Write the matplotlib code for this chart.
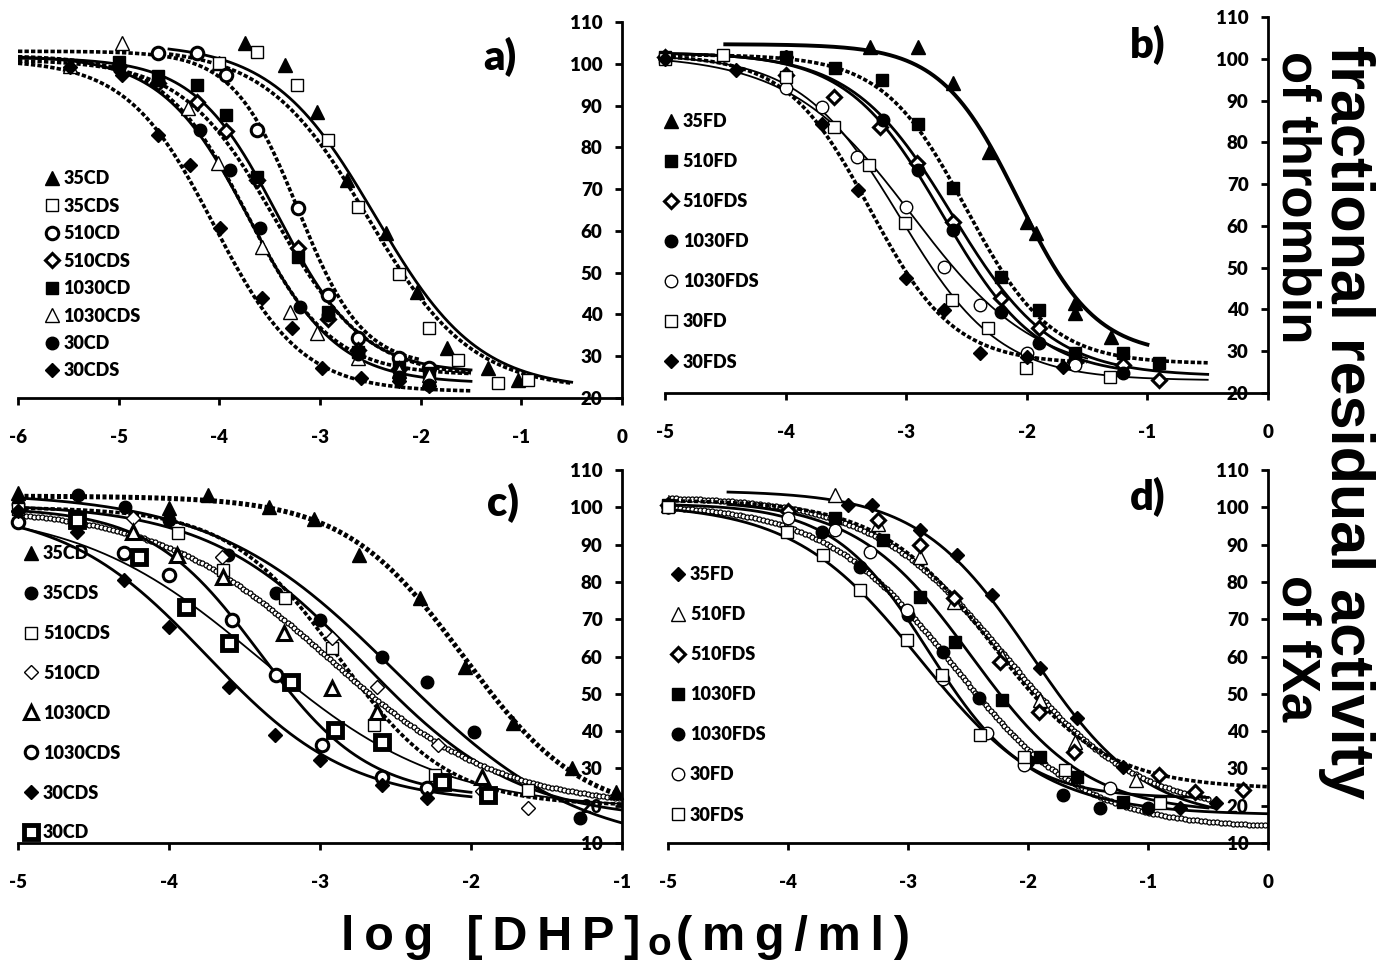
import numpy as np
import matplotlib
matplotlib.use("Agg")
import matplotlib.pyplot as plt

plt.rcParams['font.family'] = ['Lato', 'DejaVu Sans']
plt.rcParams['font.weight'] = 'heavy'
plt.rcParams['axes.unicode_minus'] = False

# ---------------- a) thrombin, CD / CDS
a_names = ['35CD', '35CDS', '510CD', '510CDS', '1030CD', '1030CDS', '30CD', '30CDS']
a_x = [[-4.0, -3.75, -3.35, -3.03, -2.73, -2.34, -2.04, -1.74, -1.33, -1.03],
       [-4.0, -3.63, -3.23, -2.92, -2.62, -2.22, -1.92, -1.63, -1.23, -0.93],
       [-4.61, -4.22, -3.93, -3.63, -3.22, -2.92, -2.62, -2.22, -1.92],
       [-5.0, -4.61, -4.22, -3.93, -3.63, -3.22, -2.92, -2.62, -2.22],
       [-5.0, -4.61, -4.22, -3.93, -3.63, -3.22, -2.92, -2.62, -2.22, -1.92],
       [-5.48, -4.97, -4.31, -4.01, -3.58, -3.30, -3.03, -2.62, -2.22, -1.92],
       [-5.0, -4.61, -4.19, -3.89, -3.60, -3.20, -2.92, -2.62, -2.22, -1.92],
       [-5.48, -4.97, -4.61, -4.29, -3.99, -3.58, -3.28, -2.98, -2.59, -2.22, -1.92]]
a_y = [[100.1, 104.9, 99.7, 88.5, 72.3, 59.4, 45.4, 31.9, 27.1, 24.3],
       [100.1, 102.9, 94.9, 81.8, 65.8, 49.8, 36.7, 29.1, 23.5, 24.3],
       [102.5, 102.5, 97.3, 84.1, 65.4, 44.7, 34.3, 29.5, 27.1],
       [99.5, 95.5, 90.9, 83.8, 72.2, 55.8, 39.0, 31.5, 27.0],
       [100.5, 97.0, 94.9, 87.7, 72.9, 53.8, 40.5, 31.0, 27.5, 26.0],
       [99.5, 104.9, 89.3, 76.2, 56.2, 40.7, 35.5, 29.5, 26.5, 25.5],
       [99.0, 96.0, 84.1, 74.6, 60.6, 41.8, 39.9, 30.5, 25.0, 23.0],
       [99.3, 97.3, 83.0, 75.8, 60.6, 43.9, 36.7, 27.1, 24.7, 24.0, 22.8]]
# fitted curves: top, bottom, log IC50, Hill slope
a_fit = [[105, 22, -2.45, 0.85], [104, 22, -2.52, 0.85], [103, 27.5, -3.22, 1.35],
         [101, 25, -3.45, 0.95], [101.5, 26, -3.42, 1.05], [102, 25.5, -3.72, 1.05],
         [102, 23.5, -3.70, 1.0], [101, 21.5, -4.05, 1.0]]
a_span = [[-4.5, -0.5], [-4.5, -0.5], [-6, -2.0], [-6, -1.5],
          [-6, -1.5], [-6, -1.5], [-6, -1.5], [-6, -1.5]]

# ---------------- b) thrombin, FD / FDS
b_names = ['35FD', '510FD', '510FDS', '1030FD', '1030FDS', '30FD', '30FDS']
b_x = [[-3.30, -2.90, -2.61, -2.31, -2.0, -1.92, -1.60, -1.60, -1.30],
       [-5.0, -4.0, -3.59, -3.20, -2.90, -2.61, -2.21, -1.90, -1.60, -1.20, -0.90],
       [-5.0, -4.0, -3.60, -3.22, -2.91, -2.61, -2.21, -1.90, -1.60, -1.20, -0.90],
       [-5.0, -4.0, -3.19, -2.90, -2.61, -2.21, -1.90, -1.60, -1.20],
       [-5.0, -4.0, -3.70, -3.41, -3.0, -2.69, -2.39, -2.0, -1.60],
       [-5.0, -4.52, -4.0, -3.60, -3.31, -3.01, -2.62, -2.32, -2.01, -1.31],
       [-5.0, -4.41, -4.0, -3.70, -3.40, -3.0, -2.69, -2.39, -2.0, -1.70]]
b_y = [[102.9, 102.9, 94.1, 77.8, 61.0, 58.2, 41.5, 39.1, 33.5],
       [100.5, 100.5, 97.7, 94.9, 84.5, 69.0, 47.8, 39.9, 29.5, 29.5, 27.1],
       [100.5, 96.0, 90.9, 83.7, 75.0, 61.0, 42.7, 35.5, 27.5, 26.7, 23.1],
       [100.5, 100.5, 85.3, 73.4, 59.0, 39.5, 31.9, 28.0, 24.7],
       [100.3, 92.9, 88.5, 76.6, 64.6, 50.2, 41.1, 29.5, 26.7],
       [100.0, 100.9, 95.7, 83.7, 74.6, 60.6, 42.3, 35.5, 25.9, 23.9],
       [100.0, 97.3, 100.5, 84.5, 68.6, 47.5, 39.9, 29.5, 28.5, 26.3]]
b_fit = [[103.5, 29, -2.07, 1.35], [101, 27, -2.5, 1.25], [101.5, 24, -2.62, 1.05],
         [101.5, 24, -2.70, 1.1], [101, 24, -2.95, 0.85], [101, 23, -3.05, 1.05],
         [101, 27, -3.3, 1.25]]
b_span = [[-4.5, -1.0], [-5, -0.5], [-5, -0.5], [-5, -1.2],
          [-5, -1.5], [-5, -0.5], [-5, -1.5]]

# ---------------- c) fXa, CD / CDS
c_names = ['35CD', '35CDS', '510CDS', '510CD', '1030CD', '1030CDS', '30CDS', '30CD']
c_x = [[-5.0, -4.0, -3.74, -3.34, -3.04, -2.74, -2.34, -2.04, -1.72, -1.33, -1.04],
       [-5.0, -4.60, -4.29, -4.0, -3.61, -3.29, -3.0, -2.59, -2.29, -1.98, -1.28],
       [-5.0, -4.61, -3.94, -3.64, -3.23, -2.92, -2.64, -2.24, -1.62],
       [-5.0, -4.61, -4.24, -3.65, -2.92, -2.62, -2.22, -1.93, -1.62],
       [-4.61, -4.24, -3.95, -3.64, -3.24, -2.92, -2.62, -1.93],
       [-5.0, -4.30, -4.0, -3.58, -3.29, -2.99, -2.59, -2.29],
       [-5.0, -4.61, -4.30, -4.0, -3.60, -3.30, -3.0, -2.59, -2.29],
       [-4.61, -4.20, -3.89, -3.60, -3.19, -2.90, -2.59, -2.19, -1.89]]
c_y = [[103.8, 99.7, 103.3, 100.2, 96.8, 87.2, 75.6, 57.3, 42.1, 30.0, 23.8],
       [101.0, 103.3, 100.2, 96.6, 87.2, 76.9, 69.8, 59.9, 53.2, 39.8, 16.6],
       [99.5, 96.6, 93.0, 83.2, 75.6, 62.2, 41.6, 28.2, 24.2],
       [99.0, 97.5, 97.0, 86.8, 64.9, 51.9, 36.3, 24.0, 19.3],
       [97.0, 93.5, 87.2, 81.4, 66.2, 51.5, 45.2, 27.8],
       [96.1, 87.7, 81.9, 69.8, 55.0, 36.3, 27.8, 24.7],
       [99.0, 93.5, 80.5, 68.0, 51.9, 39.0, 32.3, 25.6, 22.0],
       [96.5, 86.8, 73.4, 63.5, 53.2, 40.3, 37.2, 26.4, 22.9]]
c_fit = [[103, 17, -2.05, 1.1], [104, 8, -2.5, 0.72], [100, 20, -2.88, 1.2],
         [101, 16, -2.72, 0.85], [100, 19.5, -2.95, 0.77], [100, 22, -3.4, 1.2],
         [100, 20.5, -3.75, 0.92], [100, 19, -3.4, 0.72]]
c_span = [[-5, -1], [-5, -1], [-5, -1], [-5, -1],
          [-5, -1], [-5, -2.0], [-5, -2.0], [-5, -1]]

# ---------------- d) fXa, FD / FDS
d_names = ['35FD', '510FD', '510FDS', '1030FD', '1030FDS', '30FD', '30FDS']
d_x = [[-4.0, -3.50, -3.30, -2.90, -2.59, -2.30, -1.90, -1.59, -1.21, -0.73, -0.43],
       [-5.0, -3.61, -3.25, -2.90, -2.62, -2.22, -1.90, -1.61, -1.10],
       [-5.0, -4.0, -3.25, -2.90, -2.62, -2.23, -1.91, -1.62, -0.91, -0.61, -0.21],
       [-5.0, -3.61, -3.21, -2.90, -2.61, -2.22, -1.90, -1.59, -1.21],
       [-5.0, -3.72, -3.40, -3.0, -2.71, -2.41, -2.0, -1.71, -1.40, -1.0],
       [-5.0, -4.0, -3.61, -3.32, -3.01, -2.71, -2.34, -2.03, -1.32],
       [-5.0, -4.01, -3.71, -3.40, -3.01, -2.72, -2.40, -2.03, -1.69, -0.90]]
d_y = [[99.0, 100.6, 100.6, 93.9, 87.2, 76.5, 56.8, 43.4, 30.5, 19.3, 20.6],
       [100.5, 103.3, 95.5, 86.8, 74.6, 60.0, 48.3, 37.2, 27.0],
       [100.5, 99.0, 96.6, 89.9, 75.6, 58.6, 45.2, 34.5, 28.2, 23.8, 24.2],
       [100.5, 97.0, 91.2, 76.0, 64.0, 48.3, 33.1, 27.8, 21.1],
       [100.0, 93.5, 84.1, 71.1, 61.3, 48.8, 32.0, 22.9, 19.3, 19.3],
       [100.0, 97.0, 93.9, 88.1, 72.5, 54.0, 39.4, 31.0, 24.7],
       [100.2, 93.5, 87.2, 77.8, 64.4, 55.0, 39.0, 33.0, 29.6, 20.6]]
d_fit = [[104.5, 16, -1.97, 0.92], [103, 18, -2.2, 0.78], [102, 24.5, -2.3, 0.92],
         [102, 18, -2.47, 0.9], [101, 14, -2.62, 0.8], [101, 22, -2.83, 1.1],
         [101, 17.5, -2.9, 0.82]]
d_span = [[-4.5, -0.45], [-5, -0.5], [-5, 0], [-4.5, -0.5],
          [-5, 0], [-5, -0.5], [-5, 0]]

# ---------------- styles
MARKS = {
    'tri_f': dict(marker='^', ms=10, mfc='black', mec='black', mew=1),
    'tri_o': dict(marker='^', ms=10, mfc='white', mec='black', mew=1),
    'tri_ob': dict(marker='^', ms=10, mfc='white', mec='black', mew=2.2),
    'sq_f': dict(marker='s', ms=8.5, mfc='black', mec='black', mew=1),
    'sq_o': dict(marker='s', ms=9, mfc='white', mec='black', mew=1),
    'sq_ob': dict(marker='s', ms=9.5, mfc='white', mec='black', mew=3.5),
    'ci_f': dict(marker='o', ms=9, mfc='black', mec='black', mew=1),
    'ci_o': dict(marker='o', ms=9, mfc='white', mec='black', mew=1),
    'ci_ob': dict(marker='o', ms=9, mfc='white', mec='black', mew=2.2),
    'di_f': dict(marker='D', ms=7.5, mfc='black', mec='black', mew=1),
    'di_o': dict(marker='D', ms=7.5, mfc='white', mec='black', mew=1),
    'di_ob': dict(marker='D', ms=7.5, mfc='white', mec='black', mew=2.2),
}
LINES = {
    'solid': dict(ls='-', lw=2.0),
    'thick': dict(ls='-', lw=2.8),
    'thin': dict(ls='-', lw=1.3),
    'dot': dict(ls=(0, (1.2, 0.6)), lw=2.6),
    'heavydot': dict(ls=(0, (0.8, 0.5)), lw=3.6),
}
a_marks = ['tri_f', 'sq_o', 'ci_ob', 'di_ob', 'sq_f', 'tri_o', 'ci_f', 'di_f']
a_lines = ['solid', 'dot', 'dot', 'dot', 'solid', 'dot', 'solid', 'dot']
b_marks = ['tri_f', 'sq_f', 'di_ob', 'ci_f', 'ci_o', 'sq_o', 'di_f']
b_lines = ['thick', 'dot', 'solid', 'solid', 'thin', 'thin', 'dot']
c_marks = ['tri_f', 'ci_f', 'sq_o', 'di_o', 'tri_ob', 'ci_ob', 'di_f', 'sq_ob']
c_lines = ['heavydot', 'solid', 'dot', 'solid', 'ring', 'solid', 'solid', 'thin']
d_marks = ['di_f', 'tri_o', 'di_ob', 'sq_f', 'ci_f', 'ci_o', 'sq_o']
d_lines = ['solid', 'ring', 'dot', 'solid', 'ring', 'solid', 'solid']

W, H = 1387, 961
fig = plt.figure(figsize=(W / 100, H / 100), dpi=100)


def box(l, t, r, b):
    return [l / W, 1 - b / H, (r - l) / W, (b - t) / H]


def logistic(x, top, bottom, x50, hill):
    return bottom + (top - bottom) / (1 + 10 ** ((x - x50) * hill))


def panel(rect, xlim, ylim, names, xs, ys, fits, spans, marks, lines, leg_xy, leg_gap):
    ax = fig.add_axes(rect)
    ax.set_xlim(*xlim)
    ax.set_ylim(*ylim)
    ax.patch.set_visible(False)
    ax.spines['top'].set_visible(False)
    ax.spines['right'].set_visible(False)
    ax.spines['left'].set_position(('data', xlim[1]))
    for s in ('left', 'bottom'):
        ax.spines[s].set_linewidth(2)
    ax.set_xticks(np.arange(xlim[0], xlim[1] + 1))
    ax.set_yticks(np.arange(ylim[0], ylim[1] + 1, 10))
    ax.tick_params(axis='x', direction='out', length=5, width=2, pad=17, labelsize=13.5)
    ax.tick_params(axis='y', direction='out', length=5, width=2, pad=9, labelsize=13.5)

    for i in range(len(names)):
        lo, hi = spans[i]
        xx = np.linspace(lo, hi, 600)
        yy = logistic(xx, *fits[i])
        if lines[i] == 'ring':
            pix = ax.transData.transform(np.column_stack([xx, yy]))
            dist = np.r_[0, np.cumsum(np.hypot(*np.diff(pix, axis=0).T))]
            xr = np.interp(np.arange(0, dist[-1], 4.0), dist, xx)
            ax.plot(xr, logistic(xr, *fits[i]), ls='none', marker='o', ms=3.6,
                    mfc='white', mec='black', mew=0.9, zorder=2)
        else:
            ax.plot(xx, yy, color='black', zorder=2, **LINES[lines[i]])
        ax.plot(xs[i], ys[i], ls='none', zorder=3, clip_on=False,
                label=names[i], **MARKS[marks[i]])

    ax.legend(loc='upper left', bbox_to_anchor=leg_xy, frameon=False,
              prop=dict(size=13, weight='heavy'), handlelength=1.0,
              handletextpad=0.15, borderpad=0, borderaxespad=0,
              labelspacing=leg_gap, numpoints=1)
    return ax


panel(box(18, 22, 622, 398), (-6, 0), (20, 110), a_names, a_x, a_y, a_fit, a_span,
      a_marks, a_lines, (0.041, 0.606), 0.58)
panel(box(665, 17, 1268, 393), (-5, 0), (20, 110), b_names, b_x, b_y, b_fit, b_span,
      b_marks, b_lines, (-0.005, 0.745), 1.28)
panel(box(18, 470, 622, 843), (-5, -1), (10, 110), c_names, c_x, c_y, c_fit, c_span,
      c_marks, c_lines, (0.007, 0.799), 1.27)
panel(box(668, 470, 1268, 843), (-5, 0), (10, 110), d_names, d_x, d_y, d_fit, d_span,
      d_marks, d_lines, (0.002, 0.743), 1.28)

# panel letters
for txt, px, py in [('a)', 500, 57), ('b)', 1148, 45), ('c)', 503, 503), ('d)', 1148, 497)]:
    fig.text(px / W, 1 - py / H, txt, ha='center', va='center', fontsize=30, weight='heavy')

arial = ['Liberation Sans', 'DejaVu Sans']
fig.text(1347 / W, 1 - 422 / H, 'fractional residual activity', rotation=-90,
         ha='center', va='center', fontsize=44, weight='bold', family=arial)
fig.text(1297 / W, 1 - 197 / H, 'of thrombin', rotation=-90,
         ha='center', va='center', fontsize=38, weight='bold', family=arial)
fig.text(1297 / W, 1 - 648 / H, 'of fXa', rotation=-90,
         ha='center', va='center', fontsize=38, weight='bold', family=arial)

sp = '\u2009'
fig.text(640 / W, 1 - 950 / H, sp.join('log [DHP]'), ha='right', va='baseline',
         fontsize=35, weight='bold', family=arial)
fig.text(659 / W, 1 - 955 / H, 'o', ha='center', va='baseline',
         fontsize=28, weight='bold', family=arial)
fig.text(676 / W, 1 - 950 / H, sp.join('(mg/ml)'), ha='left', va='baseline',
         fontsize=35, weight='bold', family=arial)

fig.savefig('out.png', dpi=100)
